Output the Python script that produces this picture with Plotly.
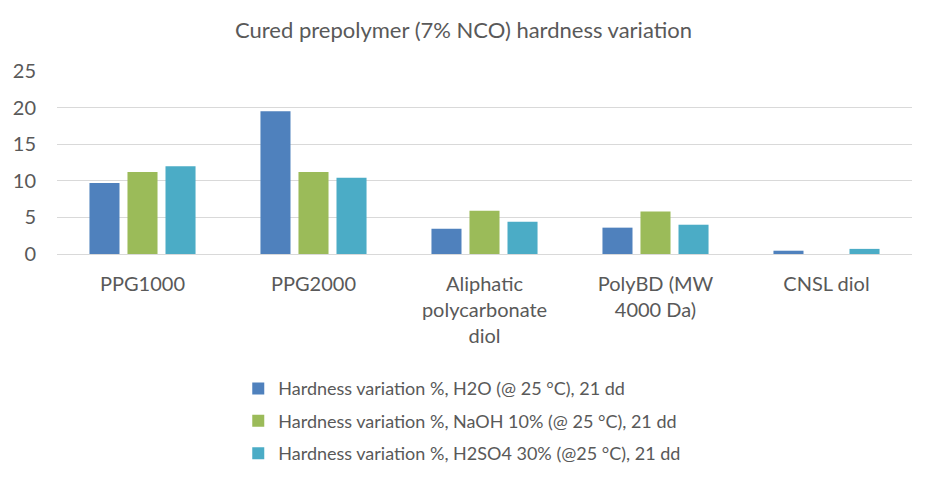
import plotly.graph_objects as go

categories = ["PPG1000", "PPG2000", "Aliphatic<br>polycarbonate<br>diol", "PolyBD (MW<br>4000 Da)", "CNSL diol"]
h2o = [9.7, 19.5, 3.45, 3.6, 0.45]
naoh = [11.2, 11.2, 5.9, 5.8, 0.0]
h2so4 = [12.0, 10.4, 4.4, 4.0, 0.7]
series_names = [
    "Hardness variation %, H2O (@ 25 °C), 21 dd",
    "Hardness variation %, NaOH 10% (@ 25 °C), 21 dd",
    "Hardness variation %, H2SO4 30% (@25 °C), 21 dd",
]
colors = ["#4F81BD", "#9BBB59", "#4BACC6"]

FONT = "Lato"
fig = go.Figure()
for i, (name, vals) in enumerate(zip(series_names, [h2o, naoh, h2so4])):
    fig.add_trace(go.Bar(x=categories, y=vals, name=name, marker_color=colors[i],
                         marker_line_width=0, legendgroup=f"g{i}"))

fig.update_layout(
    width=927, height=482,
    margin=dict(l=57, r=15, t=71, b=228, autoexpand=False),
    paper_bgcolor="white", plot_bgcolor="white",
    title=dict(text="Cured prepolymer (7% NCO) hardness variation", x=0.5, xanchor="center",
               y=1 - 30/482, yanchor="middle", font=dict(family=FONT, size=22, color="#595959")),
    barmode="group", bargap=0.333, bargroupgap=0.21,
    font=dict(family=FONT, color="#595959"),
    legend=dict(orientation="v", x=0.212, xanchor="left", y=-0.635, yanchor="top",
                font=dict(family=FONT, size=18, color="#595959"), tracegroupgap=6,
                itemwidth=30),
    showlegend=True,
)
fig.update_yaxes(range=[0, 25], dtick=5, showgrid=True, gridcolor="#D9D9D9", gridwidth=1,
                 zeroline=True, zerolinecolor="#D9D9D9", zerolinewidth=1,
                 tickfont=dict(family=FONT, size=20, color="#595959"), ticklabelstandoff=20,
                 showline=False)
fig.update_xaxes(tickfont=dict(family=FONT, size=20, color="#595959"), showline=False,
                 ticks="", ticklabelstandoff=16)

fig.write_html("out.html")
